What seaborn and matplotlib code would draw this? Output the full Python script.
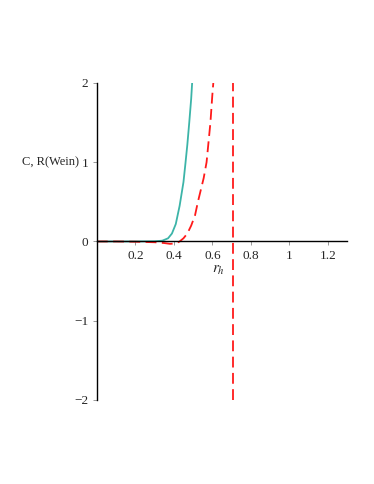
import numpy as np
import pandas as pd
import matplotlib
matplotlib.use('Agg')
import matplotlib.pyplot as plt
import seaborn as sns

# values
r_c = [0.0, 0.1, 0.2, 0.3, 0.34, 0.37, 0.39, 0.41, 0.43, 0.45, 0.46, 0.47, 0.48, 0.49, 0.495]
c_vals = [0.0, 0.0, 0.0, 0.002, 0.01, 0.04, 0.1, 0.22, 0.45, 0.75, 0.98, 1.22, 1.5, 1.8, 2.0]

r_w = [0.0, 0.1, 0.2, 0.3, 0.35, 0.38, 0.41, 0.43, 0.45, 0.47, 0.49, 0.51, 0.525,
       0.54, 0.555, 0.57, 0.58, 0.59, 0.6, 0.605]
w_vals = [0.0, 0.0, -0.003, -0.01, -0.02, -0.03, -0.025, 0.0, 0.04, 0.1, 0.2, 0.33, 0.5,
          0.65, 0.8, 1.0, 1.25, 1.5, 1.85, 2.0]

r_asym = [0.707, 0.707]
asym_vals = [-2.0, 2.0]

x_ticks = [0.2, 0.4, 0.6, 0.8, 1.0, 1.2]
x_labels = ['0.2', '0.4', '0.6', '0.8', '1', '1.2']
y_ticks = [-2, -1, 0, 1, 2]

sns.set_style('white')
plt.rcParams['font.family'] = ['Liberation Serif', 'DejaVu Serif']
plt.rcParams['mathtext.fontset'] = 'stix'

fig = plt.figure(figsize=(3.74, 4.84), dpi=100)
ax = fig.add_axes([0.259, 0.1736, 0.669, 0.655])

df_c = pd.DataFrame({'r': r_c, 'v': c_vals})
df_w = pd.DataFrame({'r': r_w, 'v': w_vals})
df_a = pd.DataFrame({'r': r_asym, 'v': asym_vals})

sns.lineplot(data=df_c, x='r', y='v', ax=ax, color='#3cb4a8', lw=1.3,
             sort=False, estimator=None)
sns.lineplot(data=df_w, x='r', y='v', ax=ax, color='#ff1a1a', lw=1.3,
             sort=False, estimator=None)
ax.lines[-1].set_dashes([6, 3])
sns.lineplot(data=df_a, x='r', y='v', ax=ax, color='#ff1a1a', lw=1.3,
             sort=False, estimator=None)
ax.lines[-1].set_dashes([6, 3])

ax.set_xlim(0, 1.3)
ax.set_ylim(-2, 2)
ax.spines['top'].set_visible(False)
ax.spines['right'].set_visible(False)
ax.spines['bottom'].set_position(('data', 0))
ax.spines['left'].set_position(('data', 0))
for s in ['bottom', 'left']:
    ax.spines[s].set_color('black')
    ax.spines[s].set_linewidth(1.0)

ax.set_xticks(x_ticks)
ax.set_xticklabels(x_labels)
ax.set_yticks(y_ticks)
ax.set_yticks([-1.5, -0.5, 0.5, 1.5], minor=True)
ax.tick_params(axis='both', which='major', length=3, width=0.6, color='#888888',
               labelsize=9.5, direction='out', pad=3)
ax.tick_params(axis='y', which='minor', length=2, width=0.5, color='#888888', direction='out')
ax.tick_params(axis='y', left=True)
ax.tick_params(axis='x', bottom=True)

ax.set_xlabel('')
ax.set_ylabel('')
fig.text(0.135, 0.665, 'C, R(Wein)', ha='center', va='center', fontsize=9)
fig.text(0.583, 0.442, r'$r_h$', ha='center', va='center', fontsize=11)

fig.savefig('out.png', dpi=100)
